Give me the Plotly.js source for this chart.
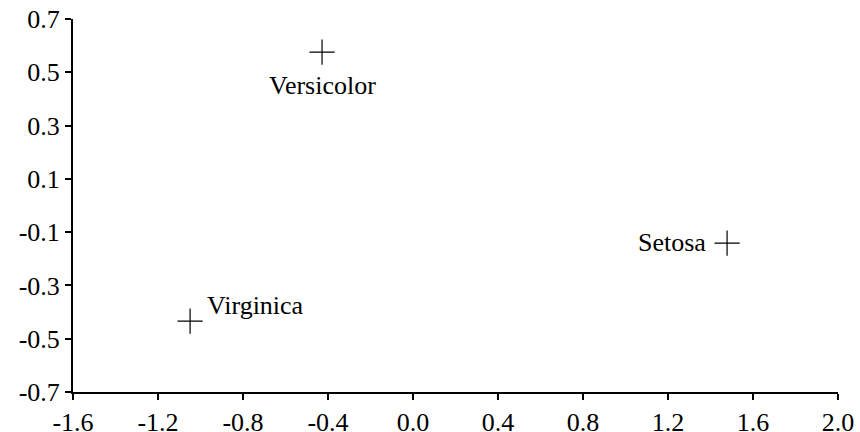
<!DOCTYPE html>
<html><head><meta charset="utf-8">
<script src="https://cdn.plot.ly/plotly-3.0.1.min.js"></script>
<style>
body{margin:0;background:#fff}
#c{width:860px;height:432px}
#c svg text{font-family:"Liberation Serif","Times New Roman",serif !important;}
</style>
</head><body><div id="c"></div>
<script>
const species = ["Versicolor", "Setosa", "Virginica"];
const xVals = [-0.428, 1.478, -1.049];
const yVals = [0.576, -0.141, -0.434];
const xTicks = [-1.6, -1.2, -0.8, -0.4, 0.0, 0.4, 0.8, 1.2, 1.6, 2.0];
const xTickText = ["-1.6", "-1.2", "-0.8", "-0.4", "0.0", "0.4", "0.8", "1.2", "1.6", "2.0"];
const yTicks = [0.7, 0.5, 0.3, 0.1, -0.1, -0.3, -0.5, -0.7];
const yTickText = ["0.7", "0.5", "0.3", "0.1", "-0.1", "-0.3", "-0.5", "-0.7"];

const labelStyle = [
  {xanchor: "center", yanchor: "middle", xshift: 0, yshift: -33},
  {xanchor: "right", yanchor: "middle", xshift: -19, yshift: 1},
  {xanchor: "left", yanchor: "middle", xshift: 15, yshift: 16}
];

const annotations = species.map((s, i) => Object.assign({
  x: xVals[i], y: yVals[i], xref: "x", yref: "y", text: s, showarrow: false,
  font: {family: "Liberation Serif", size: 26, color: "#000"}
}, labelStyle[i]));

const trace = {
  x: xVals, y: yVals, type: "scatter", mode: "markers",
  marker: {symbol: "cross-thin-open", size: 18, color: "#000", line: {color: "#000", width: 1.2}},
  hoverinfo: "skip", showlegend: false
};

const layout = {
  width: 860, height: 432,
  font: {family: "Liberation Serif", size: 26, color: "#000"},
  margin: {l: 73, r: 22, t: 19, b: 40},
  paper_bgcolor: "#fff", plot_bgcolor: "#fff",
  xaxis: {
    range: [-1.6, 2.0], tickmode: "array", tickvals: xTicks, ticktext: xTickText,
    showgrid: false, zeroline: false, showline: true, linecolor: "#000", linewidth: 2,
    ticks: "outside", ticklen: 6, tickwidth: 2, tickcolor: "#000",
    tickfont: {family: "Liberation Serif", size: 26, color: "#000"}
  },
  yaxis: {
    range: [-0.7, 0.7], tickmode: "array", tickvals: yTicks, ticktext: yTickText,
    showgrid: false, zeroline: false, showline: true, linecolor: "#000", linewidth: 2,
    ticks: "outside", ticklen: 6, tickwidth: 2, tickcolor: "#000",
    tickfont: {family: "Liberation Serif", size: 26, color: "#000"}
  },
  annotations: annotations
};

Plotly.newPlot("c", [trace], layout, {staticPlot: true, displayModeBar: false});
</script>
</body></html>
